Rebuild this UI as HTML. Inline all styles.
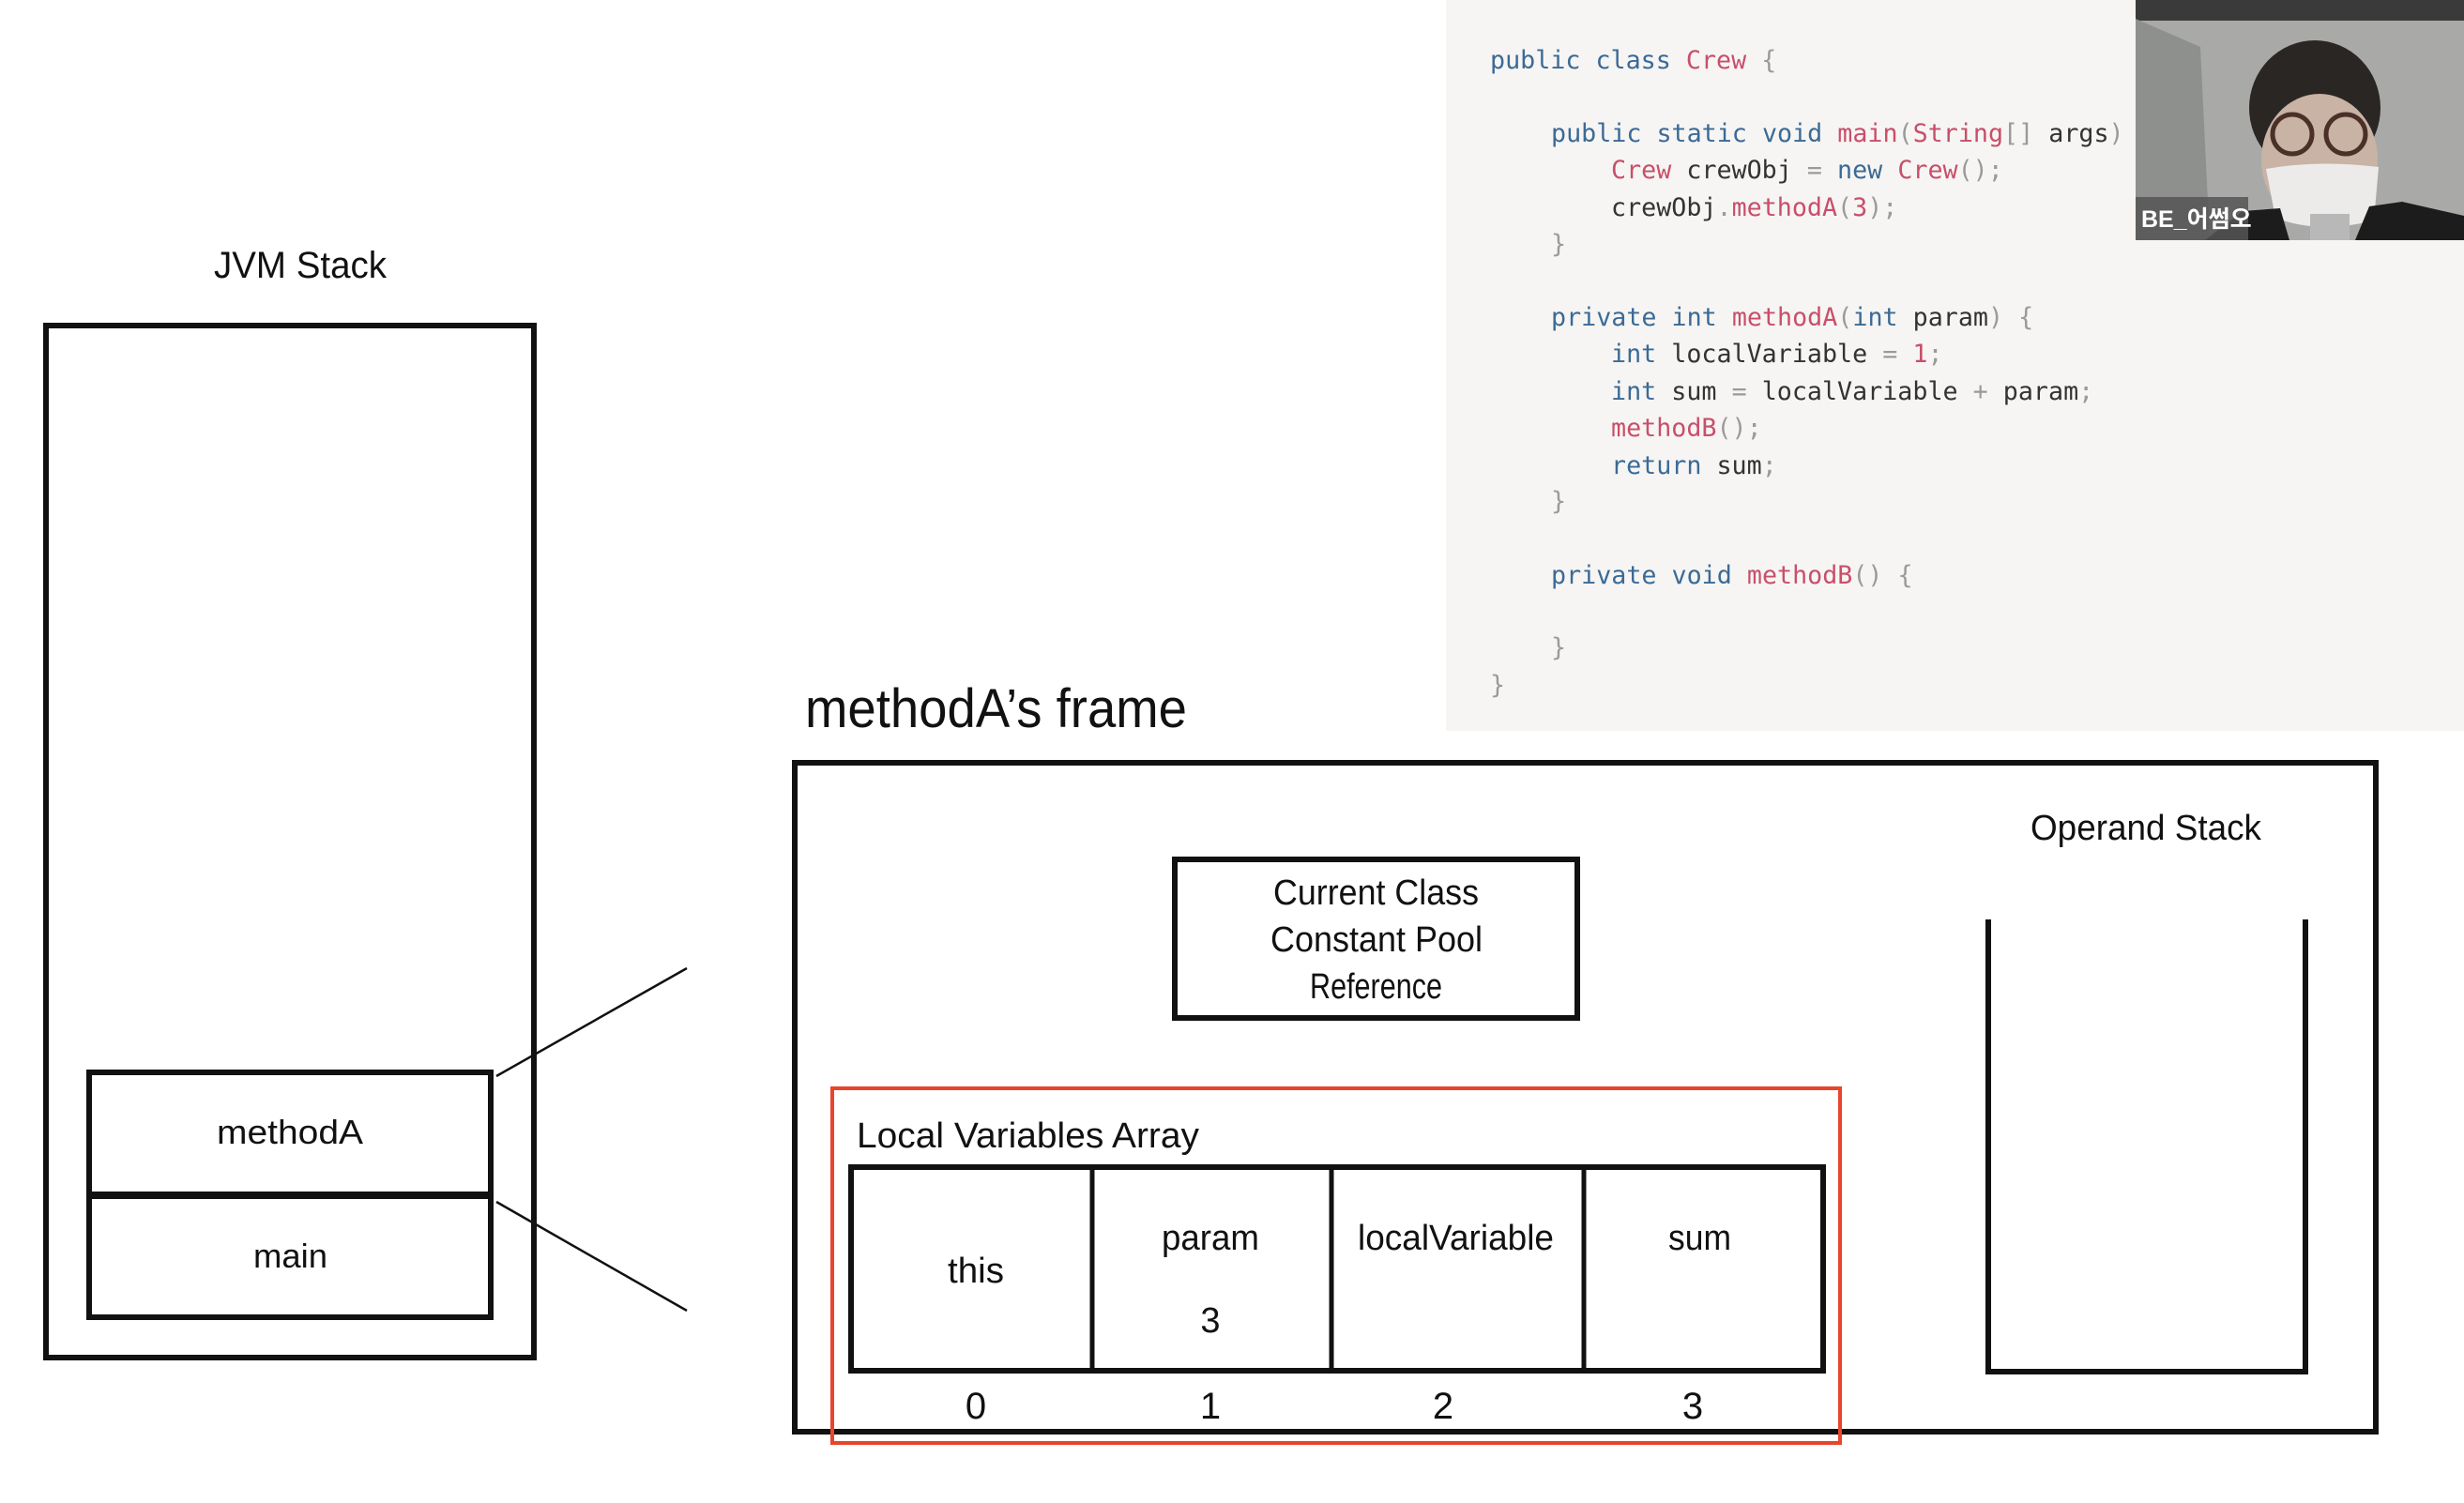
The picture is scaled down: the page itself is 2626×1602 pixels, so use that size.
<!DOCTYPE html>
<html><head><meta charset="utf-8"><style>
html,body{margin:0;padding:0;background:#fff;}
svg{display:block;}
.c{font-family:"DejaVu Sans Mono","Liberation Mono",monospace;font-size:26.7px;}
.k{fill:#3b6a96}.p{fill:#c84f6a}.d{fill:#333}.g{fill:#9a9a9a}
.h{font-family:"Liberation Sans",sans-serif;fill:#111;}
</style></head><body>
<svg width="2626" height="1602" viewBox="0 0 2626 1602" xmlns="http://www.w3.org/2000/svg">
<rect width="2626" height="1602" fill="#fff"/>
<rect x="1541" y="0" width="1085" height="779" fill="#f6f5f3"/>
<g class="c">
<text x="1588" y="73"><tspan class="k">public class </tspan><tspan class="p">Crew</tspan><tspan class="g"> {</tspan></text>
<text x="1653" y="151"><tspan class="k">public static void </tspan><tspan class="p">main</tspan><tspan class="g">(</tspan><tspan class="p">String</tspan><tspan class="g">[] </tspan><tspan class="d">args</tspan><tspan class="g">)</tspan></text>
<text x="1717" y="190"><tspan class="p">Crew</tspan><tspan class="d"> crewObj </tspan><tspan class="g">= </tspan><tspan class="k">new </tspan><tspan class="p">Crew</tspan><tspan class="g">();</tspan></text>
<text x="1717" y="230"><tspan class="d">crewObj</tspan><tspan class="g">.</tspan><tspan class="p">methodA</tspan><tspan class="g">(</tspan><tspan class="p">3</tspan><tspan class="g">);</tspan></text>
<text x="1653" y="269" class="g">}</text>
<text x="1653" y="347"><tspan class="k">private int </tspan><tspan class="p">methodA</tspan><tspan class="g">(</tspan><tspan class="k">int </tspan><tspan class="d">param</tspan><tspan class="g">) {</tspan></text>
<text x="1717" y="386"><tspan class="k">int </tspan><tspan class="d">localVariable </tspan><tspan class="g">= </tspan><tspan class="p">1</tspan><tspan class="g">;</tspan></text>
<text x="1717" y="426"><tspan class="k">int </tspan><tspan class="d">sum </tspan><tspan class="g">= </tspan><tspan class="d">localVariable </tspan><tspan class="g">+ </tspan><tspan class="d">param</tspan><tspan class="g">;</tspan></text>
<text x="1717" y="465"><tspan class="p">methodB</tspan><tspan class="g">();</tspan></text>
<text x="1717" y="505"><tspan class="k">return </tspan><tspan class="d">sum</tspan><tspan class="g">;</tspan></text>
<text x="1653" y="543" class="g">}</text>
<text x="1653" y="622"><tspan class="k">private void </tspan><tspan class="p">methodB</tspan><tspan class="g">() {</tspan></text>
<text x="1653" y="699" class="g">}</text>
<text x="1588" y="739" class="g">}</text>
</g>
<rect x="2276" y="0" width="350" height="256" fill="#a9aaa8"/>
<rect x="2276" y="0" width="350" height="22" fill="#3a3a3a"/>
<polygon points="2276,20 2345,50 2355,256 2276,256" fill="#8e908e"/>
<ellipse cx="2467" cy="115" rx="70" ry="72" fill="#2a2624"/>
<ellipse cx="2472" cy="170" rx="62" ry="70" fill="#c9b3a5"/>
<circle cx="2443" cy="143" r="21" fill="none" stroke="#4a3026" stroke-width="5"/>
<circle cx="2500" cy="143" r="21" fill="none" stroke="#4a3026" stroke-width="5"/>
<path d="M2415 180 Q2470 170 2535 178 L2530 235 Q2470 250 2425 232 Z" fill="#ecebea"/>
<path d="M2350 256 L2390 225 L2430 222 L2440 256 Z M2510 256 L2525 220 L2560 215 L2626 230 L2626 256 Z" fill="#1d1c1c"/>
<rect x="2462" y="228" width="42" height="28" fill="#b8b8b8"/>
<rect x="2276" y="210" width="120" height="46" fill="#555" opacity="0.85"/>
<text x="2282" y="242" font-family="'Liberation Sans','Noto Sans CJK KR',sans-serif" font-size="25" font-weight="bold" fill="#fff">BE_어썸오</text>

<text class="h" x="228" y="296" font-size="40" textLength="184" lengthAdjust="spacingAndGlyphs">JVM Stack</text>
<rect x="49" y="347" width="520" height="1100" fill="none" stroke="#111" stroke-width="6"/>
<rect x="95" y="1143" width="428" height="131" fill="none" stroke="#111" stroke-width="6"/>
<rect x="95" y="1274" width="428" height="130" fill="none" stroke="#111" stroke-width="6"/>
<line x1="95" y1="1274" x2="523" y2="1274" stroke="#111" stroke-width="8"/>
<text class="h" x="231" y="1219" font-size="36" textLength="156" lengthAdjust="spacingAndGlyphs">methodA</text>
<text class="h" x="270" y="1351" font-size="36" textLength="79" lengthAdjust="spacingAndGlyphs">main</text>
<line x1="529" y1="1147" x2="732" y2="1032" stroke="#111" stroke-width="2.5"/>
<line x1="529" y1="1281" x2="732" y2="1397" stroke="#111" stroke-width="2.5"/>

<text class="h" x="858" y="775" font-size="58" textLength="407" lengthAdjust="spacingAndGlyphs">methodA’s frame</text>
<rect x="847" y="813" width="1685" height="713" fill="none" stroke="#111" stroke-width="6"/>
<rect x="1252" y="916" width="429" height="169" fill="none" stroke="#111" stroke-width="6"/>
<text class="h" x="1357" y="964" font-size="38" textLength="219" lengthAdjust="spacingAndGlyphs">Current Class</text>
<text class="h" x="1354" y="1014" font-size="38" textLength="226" lengthAdjust="spacingAndGlyphs">Constant Pool</text>
<text class="h" x="1396" y="1064" font-size="38" textLength="141" lengthAdjust="spacingAndGlyphs">Reference</text>
<text class="h" x="2164" y="895" font-size="38" textLength="246" lengthAdjust="spacingAndGlyphs">Operand Stack</text>
<polyline points="2119,980 2119,1462 2457,1462 2457,980" fill="none" stroke="#111" stroke-width="6"/>

<rect x="887" y="1160" width="1074" height="378" fill="none" stroke="#e8452c" stroke-width="4"/>
<text class="h" x="913" y="1223" font-size="38" textLength="365" lengthAdjust="spacingAndGlyphs">Local Variables Array</text>
<rect x="907" y="1244" width="1036" height="217" fill="none" stroke="#111" stroke-width="6"/>
<line x1="1164" y1="1244" x2="1164" y2="1461" stroke="#111" stroke-width="5"/>
<line x1="1419" y1="1244" x2="1419" y2="1461" stroke="#111" stroke-width="5"/>
<line x1="1688" y1="1244" x2="1688" y2="1461" stroke="#111" stroke-width="5"/>
<text class="h" x="1010" y="1367" font-size="38" textLength="60" lengthAdjust="spacingAndGlyphs">this</text>
<text class="h" x="1238" y="1332" font-size="38" textLength="104" lengthAdjust="spacingAndGlyphs">param</text>
<text class="h" x="1290" y="1420" font-size="38" text-anchor="middle">3</text>
<text class="h" x="1447" y="1332" font-size="38" textLength="209" lengthAdjust="spacingAndGlyphs">localVariable</text>
<text class="h" x="1778" y="1332" font-size="38" textLength="67" lengthAdjust="spacingAndGlyphs">sum</text>
<g class="h" font-size="40" text-anchor="middle">
<text x="1040" y="1512">0</text><text x="1290" y="1512">1</text><text x="1538" y="1512">2</text><text x="1804" y="1512">3</text>
</g>
</svg>
</body></html>
